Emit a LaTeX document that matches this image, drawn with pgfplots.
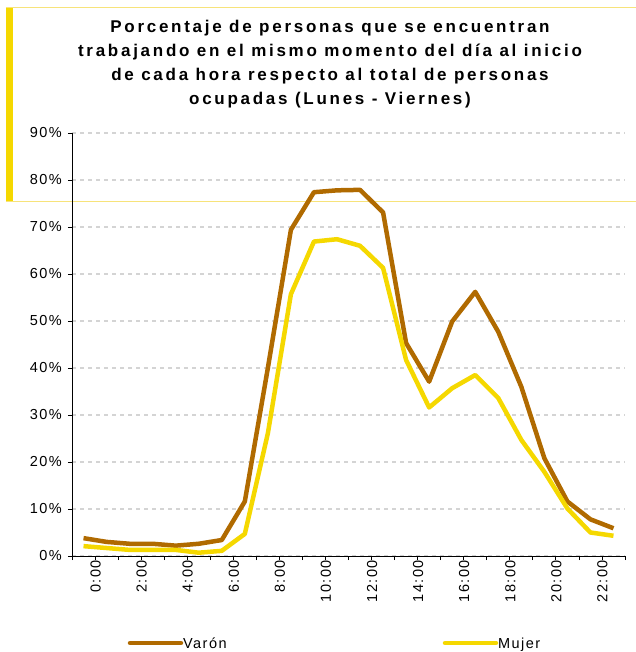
\documentclass[border=0pt]{standalone}
\usepackage{fontspec}
\setmainfont{Liberation Sans}
\usepackage{pgfplots}
\pgfplotsset{compat=1.18}
\definecolor{varon}{HTML}{B06A00}
\definecolor{mujer}{HTML}{F5D800}
\definecolor{pale}{HTML}{F7E37A}
\definecolor{gridc}{HTML}{D4D4D4}
\newcommand{\lbl}{\fontsize{14.5bp}{16bp}\selectfont\addfontfeatures{LetterSpace=10}}
\begin{document}
\begin{tikzpicture}[x=1bp,y=1bp]
\path[use as bounding box] (-72,-96) rectangle (564,556);
% yellow frame round the title
\fill[mujer] (-66,354) rectangle (-59,548);
\draw[pale, line width=1bp] (-66,548) -- (564,548);
\draw[pale, line width=1bp] (-66,354) -- (564,354);
\begin{axis}[
    at={(0,0)}, anchor=south west,
    scale only axis, width=553bp, height=423bp,
    xmin=-0.5, xmax=23.5, ymin=0, ymax=90,
    axis lines=left, axis line style={-, black, line width=0.8bp},
    xtick={0,2,...,22},
    xticklabels={0:00,2:00,4:00,6:00,8:00,10:00,12:00,14:00,16:00,18:00,20:00,22:00},
    major x tick style={draw=none},
    minor xtick={-0.5,0.5,...,23.5},
    minor x tick style={black, line width=0.8bp},
    ytick={0,10,...,90},
    y tick style={black, line width=0.8bp},
    tick align=outside, major tick length=4bp, minor tick length=4bp,
    yticklabel={\pgfmathprintnumber{\tick}\%},
    /pgf/number format/assume math mode=true,
    ticklabel style={font=\lbl},
    xticklabel style={rotate=90, anchor=east, inner sep=0pt, yshift=-12bp},
    yticklabel style={inner sep=0pt, xshift=-6bp},
    ymajorgrids, major grid style={gridc, line width=2.2bp, dash pattern=on 4bp off 4bp},
    clip=false,
]
\addplot[varon, line width=4.5bp, line join=round, no marks] coordinates {
(0,3.8) (1,3.0) (2,2.6) (3,2.6) (4,2.2) (5,2.6) (6,3.4) (7,11.6)
(8,40.0) (9,69.4) (10,77.4) (11,77.8) (12,77.9) (13,73.1) (14,45.3)
(15,37.1) (16,49.9) (17,56.2) (18,47.7) (19,36.0) (20,20.8) (21,11.6)
(22,7.8) (23,5.9)};
\addplot[mujer, line width=4.5bp, line join=round, no marks] coordinates {
(0,2.1) (1,1.7) (2,1.3) (3,1.3) (4,1.3) (5,0.7) (6,1.1) (7,4.7)
(8,26.1) (9,55.7) (10,66.9) (11,67.4) (12,66.0) (13,61.3) (14,41.7)
(15,31.6) (16,35.7) (17,38.5) (18,33.6) (19,24.7) (20,17.9) (21,10.1)
(22,5.0) (23,4.3)};
\end{axis}
% title
\node[align=center, font=\fontsize{17bp}{24bp}\selectfont\bfseries\addfontfeatures{LetterSpace=16}] at (258,492)
{Porcentaje de personas que se encuentran\\trabajando en el mismo momento del día al inicio\\de cada hora respecto al total de personas\\ocupadas (Lunes - Viernes)};
% legend
\draw[varon, line width=4.5bp, line cap=round] (58,-87) -- (109,-87);
\node[anchor=base west, inner sep=0pt, font=\lbl] at (111,-92.5) {Varón};
\draw[mujer, line width=4.5bp, line cap=round] (373,-87) -- (424,-87);
\node[anchor=base west, inner sep=0pt, font=\lbl] at (426,-92.5) {Mujer};
\end{tikzpicture}
\end{document}
